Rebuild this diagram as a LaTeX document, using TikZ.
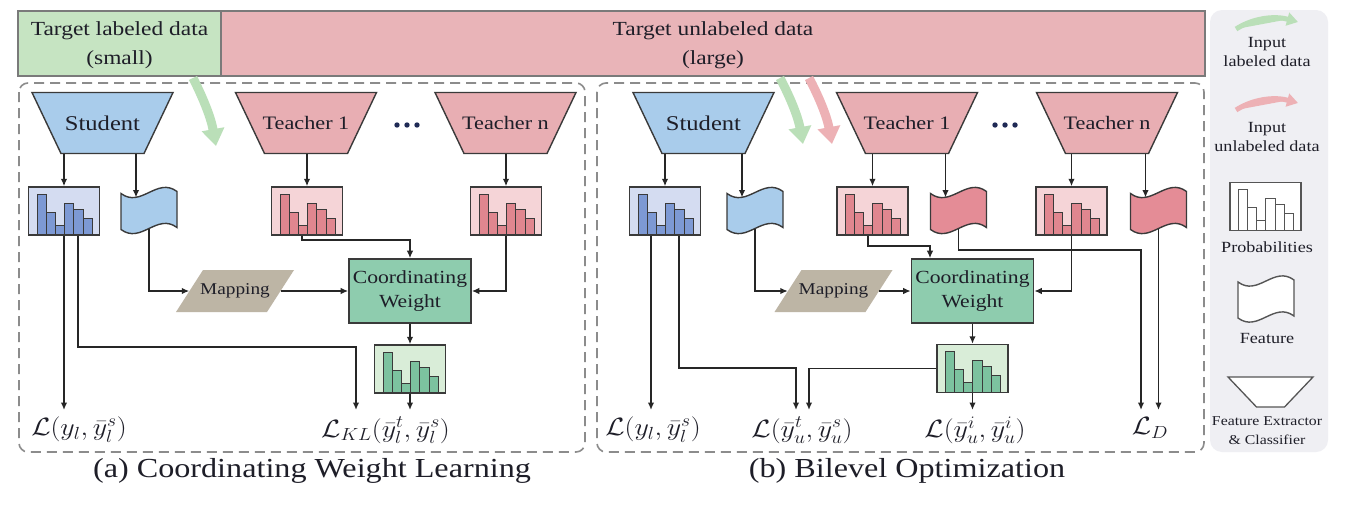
\RequirePackage{fix-cm}
\documentclass[tikz,border=0pt]{standalone}
\usepackage[no-math]{fontspec}
\setmainfont{Liberation Serif}[FakeStretch=1.17]
\usepackage{graphicx}
\usetikzlibrary{arrows.meta,calc}
\pgfdeclarelayer{back}
\pgfdeclarelayer{bg}
\pgfsetlayers{back,bg,main}
\definecolor{topgreen}{HTML}{C6E4C2}
\definecolor{toppink}{HTML}{E9B4B8}
\definecolor{barc}{HTML}{7A7A7A}
\definecolor{edgec}{HTML}{3A3A3A}
\definecolor{linec}{HTML}{262626}
\definecolor{stublue}{HTML}{A9CCEB}
\definecolor{stubg}{HTML}{D4DCF1}
\definecolor{stubar}{HTML}{7D99D4}
\definecolor{tchpink}{HTML}{E8AEB3}
\definecolor{tchbg}{HTML}{F5D4D7}
\definecolor{tchbar}{HTML}{E0868F}
\definecolor{tchflag}{HTML}{E48C96}
\definecolor{cwc}{HTML}{8ECCAE}
\definecolor{gbg}{HTML}{D9EDD8}
\definecolor{gbar}{HTML}{7CC29F}
\definecolor{mapc}{HTML}{BDB5A5}
\definecolor{dashc}{HTML}{8C8C8C}
\definecolor{legbg}{HTML}{EFEFF3}
\definecolor{legedge}{HTML}{555555}
\definecolor{agreen}{HTML}{BADFB8}
\definecolor{apink}{HTML}{EDB1B5}
\definecolor{dotc}{HTML}{1F2A55}
\definecolor{txtc}{HTML}{1E1E28}
\newcommand\fsz[2]{\fontsize{#1pt}{#2pt}\selectfont}
\newcommand\trapshape[2]{\begin{pgfonlayer}{bg}\filldraw[fill=#2,draw=edgec,line width=1.4pt,shift={(#1.center)}] (-70.5,-30.5) -- (70.5,-30.5) -- (41.5,30.5) -- (-41.5,30.5) -- cycle;\end{pgfonlayer}}
\newcommand\flagshape[3]{\begin{pgfonlayer}{bg}\filldraw[fill=#2,draw=#3,line width=1.4pt,shift={(#1.center)}] (-28,-17) .. controls (-8,-2) and (8,-34) .. (28,-19) -- (28,17) .. controls (8,2) and (-8,34) .. (-28,19) -- cycle;\end{pgfonlayer}}
\newcommand\mapshape[1]{\begin{pgfonlayer}{bg}\fill[mapc,shift={(#1.center)}] (-59,21) -- (-32,-21) -- (59,-21) -- (32,21) -- cycle;\end{pgfonlayer}}
\begin{document}
\begin{tikzpicture}[x=1pt,y=-1pt,
  arr/.style={draw=linec,line width=1.45pt,-{Latex[length=7.5pt,width=6.5pt]}},
  bigarr/.style={line width=9pt,-{Triangle[length=17pt,width=22pt]}},
  legarr/.style={line width=5pt,-{Triangle[length=11pt,width=13pt]}},
  trapnode/.style={minimum width=112pt,minimum height=61pt,inner sep=0pt,text=txtc},
  stud/.style={trapnode,font={\fsz{21}{24}}},
  teach/.style={trapnode,font={\fsz{19}{22}}},
  flagnode/.style={minimum width=56pt,minimum height=40pt,inner sep=0pt},
  mapnode/.style={minimum width=91pt,minimum height=42pt,inner sep=0pt,font={\fsz{16.5}{19}},text=txtc},
  cwnode/.style={draw=edgec,line width=1.6pt,fill=cwc,minimum width=122pt,minimum height=64pt,inner sep=0pt,align=center,font={\fsz{18.5}{24.5}},text=txtc},
  probbox/.style n args={3}{draw=#3,line width=1.4pt,fill=#1,minimum width=71pt,minimum height=48pt,inner sep=0pt,
    path picture={\foreach \a/\b/\h in {-27/-18/41,-18/-9/23,-9/0/10,0/9.5/32,9.5/19/26,19/28/17}
      \filldraw[fill=#2,draw=#3,line width=1pt] ($(path picture bounding box.south)+(\a,0)$) rectangle ($(path picture bounding box.south)+(\b,-\h)$);}},
  stuprob/.style={probbox={stubg}{stubar}{edgec}},
  tchprob/.style={probbox={tchbg}{tchbar}{edgec}},
  gprob/.style={probbox={gbg}{gbar}{edgec}},
  lab/.style={anchor=north,inner xsep=0pt,inner ysep=7pt,font={\fsz{25}{30}},text=txtc},
  toptxt/.style={align=center,font={\fsz{20}{29}},text=txtc},
  captxt/.style={font={\fsz{27.5}{30}},text=txtc},
  legtxt/.style={align=center,font={\fsz{15.5}{19}},text=txtc},
  dashbox/.style={draw=dashc,line width=1.6pt,dash pattern=on 10pt off 6pt,rounded corners=9pt}]
\useasboundingbox (0,0) rectangle (1354,506);
\begin{pgfonlayer}{back}
\fill[white] (0,0) rectangle (1354,506);
\filldraw[fill=topgreen,draw=barc,line width=1.5pt] (18,11) rectangle (221,76);
\filldraw[fill=toppink,draw=barc,line width=1.5pt] (221,11) rectangle (1205,76);
\draw[dashbox] (19,83) rectangle (585,452);
\draw[dashbox] (597,83) rectangle (1204,452);
\fill[legbg,rounded corners=12pt] (1210,10) rectangle (1328,452);
\end{pgfonlayer}
\node[toptxt] (tl) at (119.5,45) {Target labeled data\\(small)};
\node[toptxt] (tu) at (713,45) {Target unlabeled data\\(large)};
% ---------------- panel (a)
\node[stud] (sa) at (102.5,123) {Student};
\node[teach] (t1a) at (306,123) {Teacher 1};
\node[teach] (tna) at (505.5,123) {Teacher n};
\trapshape{sa}{stublue}\trapshape{t1a}{tchpink}\trapshape{tna}{tchpink}
\fill[dotc] (397,125) circle (2.7) (407,125) circle (2.7) (417,125) circle (2.7);
\node[stuprob] (pa) at (64,211) {};
\node[flagnode] (fa) at (149,210.5) {};
\flagshape{fa}{stublue}{edgec}
\node[tchprob] (p1a) at (307,211) {};
\node[tchprob] (pna) at (506,211) {};
\node[mapnode] (ma) at (235,291) {Mapping};
\mapshape{ma}
\node[cwnode] (cwa) at (410,291) {Coordinating\\Weight};
\node[gprob] (ga) at (410,369) {};
\node[lab] (la1) at (79,410) {\scalebox{1.12}[1]{$\mathcal{L}(y_l,\bar{y}_l^s)$}};
\node[lab] (la2) at (385.5,410) {\scalebox{1.12}[1]{$\mathcal{L}_{KL}(\bar{y}_l^t,\bar{y}_l^s)$}};
\coordinate (fa-in) at ($(fa.center)+(-13,-13)$);
\coordinate (fa-out) at ($(fa.center)+(0,18)$);
\draw[arr] (sa.south -| pa.north) -- (pa.north);
\draw[arr] (sa.south -| fa-in) -- (fa-in);
\draw[arr] (t1a.south -| p1a.north) -- (p1a.north);
\draw[arr] (tna.south -| pna.north) -- (pna.north);
\draw[arr] (fa-out) |- (ma.west);
\draw[arr] (ma.east) -- (cwa.west);
\draw[arr] ($(p1a.south)+(-5,0)$) |- ($(cwa.north)+(0,-18)$) -- (cwa.north);
\draw[arr] (pna.south) |- (cwa.east);
\draw[arr] (cwa.south) -- (ga.north);
\draw[arr] (ga.south) -- (ga.south |- la2.north);
\draw[arr] (pa.south) -- (pa.south |- la1.north);
\draw[arr] ($(pa.south)+(14,0)$) |- ($(la2.north)+(-29.5,-63)$) -- ($(la2.north)+(-29.5,0)$);
\node[captxt] (capa) at (312,471) {(a) Coordinating Weight Learning};
% ---------------- panel (b)
\node[stud] (sb) at (703.5,123) {Student};
\node[teach] (t1b) at (907,123) {Teacher 1};
\node[teach] (tnb) at (1107,123) {Teacher n};
\trapshape{sb}{stublue}\trapshape{t1b}{tchpink}\trapshape{tnb}{tchpink}
\fill[dotc] (995,125) circle (2.7) (1005,125) circle (2.7) (1015,125) circle (2.7);
\node[stuprob] (pb) at (665,211) {};
\node[flagnode] (fb) at (755,210.5) {};
\flagshape{fb}{stublue}{edgec}
\node[tchprob] (p1b) at (872.5,211) {};
\node[flagnode] (f1b) at (958.5,210.5) {};
\flagshape{f1b}{tchflag}{edgec}
\node[tchprob] (pnb) at (1071.5,211) {};
\node[flagnode] (fnb) at (1158.5,210.5) {};
\flagshape{fnb}{tchflag}{edgec}
\node[mapnode] (mb) at (833.5,291) {Mapping};
\mapshape{mb}
\node[cwnode] (cwb) at (972.5,291) {Coordinating\\Weight};
\node[gprob] (gb) at (972.5,368.5) {};
\node[lab] (lb1) at (653,410) {\scalebox{1.12}[1]{$\mathcal{L}(y_l,\bar{y}_l^s)$}};
\node[lab] (lb2) at (802,410) {\scalebox{1.12}[1]{$\mathcal{L}(\bar{y}_u^t,\bar{y}_u^s)$}};
\node[lab] (lb3) at (975,410) {\scalebox{1.12}[1]{$\mathcal{L}(\bar{y}_u^i,\bar{y}_u^i)$}};
\node[lab] (lb4) at (1150,410) {\scalebox{1.12}[1]{$\mathcal{L}_D$}};
\coordinate (fb-in) at ($(fb.center)+(-13,-13)$);
\coordinate (fb-out) at ($(fb.center)+(0,18)$);
\coordinate (f1b-in) at ($(f1b.center)+(-13,-13)$);
\coordinate (f1b-out) at ($(f1b.center)+(0,18)$);
\coordinate (fnb-in) at ($(fnb.center)+(-13,-13)$);
\coordinate (fnb-out) at ($(fnb.center)+(0,18)$);
\coordinate (pb-l) at ($(pb.south)+(-14,0)$);
\draw[arr] (sb.south -| pb.north) -- (pb.north);
\draw[arr] (sb.south -| fb-in) -- (fb-in);
\draw[arr] (t1b.south -| p1b.north) -- (p1b.north);
\draw[arr] (t1b.south -| f1b-in) -- (f1b-in);
\draw[arr] (tnb.south -| pnb.north) -- (pnb.north);
\draw[arr] (tnb.south -| fnb-in) -- (fnb-in);
\draw[arr] (fb-out) |- (mb.west);
\draw[arr] (mb.east) -- (cwb.west);
\draw[arr] ($(p1b.south)+(-4.5,0)$) |- ($(cwb.north)+(-42.5,-12)$) -- ($(cwb.north)+(-42.5,0)$);
\draw[arr] (f1b-out) |- ($(lb4.north)+(-9,-160)$) -- ($(lb4.north)+(-9,0)$);
\draw[arr] (pnb.south) |- (cwb.east);
\draw[arr] (fnb-out) -- (fnb-out |- lb4.north);
\draw[arr] (cwb.south) -- (gb.north);
\draw[arr] (gb.south) -- (gb.south |- lb3.north);
\draw[arr] (gb.west) -| ($(lb2.north)+(7,0)$);
\draw[arr] (pb-l) -- (pb-l |- lb1.north);
\draw[arr] ($(pb.south)+(14,0)$) |- ($(lb2.north)+(-6,-42)$) -- ($(lb2.north)+(-6,0)$);
\node[captxt] (capb) at (907,471) {(b) Bilevel Optimization};
% ---------------- input arrows
\draw[bigarr,draw=agreen,fill=agreen] (193,78) .. controls (204,100) and (211,118) .. (216,146);
\draw[bigarr,draw=agreen,fill=agreen] (780,78) .. controls (791,99) and (798,117) .. (803,144);
\draw[bigarr,draw=apink,fill=apink] (809,78) .. controls (820,99) and (827,117) .. (832,144);
% ---------------- legend
\draw[legarr,draw=agreen,fill=agreen] (1236,29) .. controls (1255,17) and (1276,16) .. (1298,22);
\node[legtxt] (lt1) at (1267,52.5) {Input\\labeled data};
\draw[legarr,draw=apink,fill=apink] (1236,110) .. controls (1255,98) and (1276,97) .. (1298,103);
\node[legtxt] (lt2) at (1267,137) {Input\\unlabeled data};
\node[probbox={white}{white}{legedge}] (lgp) at (1265.5,206.5) {};
\node[legtxt] (lt3) at (1267,247) {Probabilities};
\node[flagnode] (lgf) at (1266,299) {};
\flagshape{lgf}{white}{legedge}
\node[legtxt] (lt4) at (1267,338) {Feature};
\node[inner sep=0pt,minimum width=55pt,minimum height=30pt] (lgt) at (1270.5,392) {};
\begin{pgfonlayer}{bg}
\filldraw[fill=white,draw=legedge,line width=1.3pt,shift={(lgt.center)}] (-42.5,-15) -- (42.5,-15) -- (14,15) -- (-14,15) -- cycle;
\end{pgfonlayer}
\node[legtxt,font={\fsz{13.5}{19}}] (lt5) at (1267,430.5) {Feature Extractor\\\& Classifier};
\end{tikzpicture}
\end{document}
